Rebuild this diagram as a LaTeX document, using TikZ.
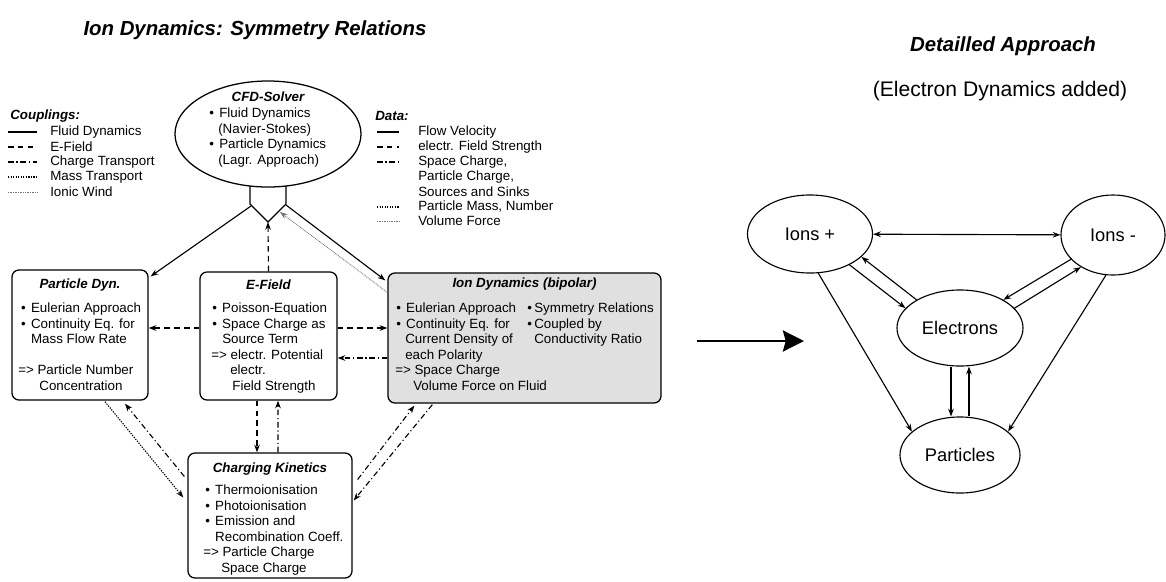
\documentclass[tikz,border=0pt]{standalone}
\usepackage{fontspec}
\setmainfont{Liberation Sans}
\usetikzlibrary{arrows.meta,shapes.geometric}

\newcommand{\bul}{\makebox[7.1pt][l]{\textbullet}}
\newcommand{\bulr}{\makebox[5pt][l]{\textbullet}}

\begin{document}
\begin{tikzpicture}[x=0.025cm,y=-0.025cm,>={Stealth[length=5.5pt,width=4pt]},
    txt/.style={font=\fontsize{9.5}{11}\selectfont,align=left,anchor=north west,inner sep=0pt},
    lg/.style={font=\fontsize{9.5}{11}\selectfont,anchor=west,inner sep=0pt},
    hd/.style={font=\fontsize{9.5}{11}\selectfont\bfseries\itshape,inner sep=0pt},
    box/.style={draw,line width=0.9pt,rounded corners=5pt,inner sep=0pt},
    fluid/.style={line width=0.8pt},
    efl/.style={line width=0.8pt,dash pattern=on 4pt off 3pt},
    chg/.style={line width=0.8pt,dash pattern=on 4pt off 2pt on 0.8pt off 2pt},
    mass/.style={line width=0.8pt,dash pattern=on 0.9pt off 0.9pt},
    wind/.style={line width=0.6pt,black!55,dash pattern=on 0.6pt off 0.6pt},
    spc/.style={draw,ellipse,line width=0.8pt,font=\fontsize{13}{15}\selectfont,inner sep=0pt}]
\useasboundingbox (0,0) rectangle (1166,581);

% titles
\node[font=\fontsize{14.5}{17}\selectfont\bfseries\itshape] (title) at (255,30) {Ion Dynamics: Symmetry Relations};
\node[font=\fontsize{14.5}{17}\selectfont\bfseries\itshape] (title2) at (1003,46) {Detailled Approach};
\node[font=\fontsize{15}{18}\selectfont] (sub) at (1000,91) {(Electron Dynamics added)};

% legend couplings
\node[hd,anchor=west] (cpl) at (10,116) {Couplings:};
\draw[line width=1.1pt] (8,132) -- (37,132);
\node[lg] (cpl-1) at (50,132) {Fluid Dynamics};
\draw[efl] (8,147) -- (37,147);
\node[lg] (cpl-2) at (50,147) {E-Field};
\draw[chg] (8,162) -- (37,162);
\node[lg] (cpl-3) at (50,162) {Charge Transport};
\draw[mass] (8,177) -- (37,177);
\node[lg] (cpl-4) at (50,177) {Mass Transport};
\draw[wind] (8,192) -- (37,192);
\node[lg] (cpl-5) at (50,192) {Ionic Wind};

% legend data
\node[hd,anchor=west] (dat) at (375,116) {Data:};
\draw[line width=1.1pt] (377,132) -- (399,132);
\node[lg] (dat-1) at (418,132) {Flow Velocity};
\draw[efl] (377,147) -- (399,147);
\node[lg] (dat-2) at (418,147) {electr. Field Strength};
\draw[chg] (377,162) -- (399,162);
\node[lg] (dat-3) at (418,162) {Space Charge,};
\node[lg] (dat-4) at (418,177) {Particle Charge,};
\node[lg] (dat-5) at (418,192) {Sources and Sinks};
\draw[mass] (377,207) -- (399,207);
\node[lg] (dat-6) at (418,207) {Particle Mass, Number};
\draw[wind] (377,221) -- (399,221);
\node[lg] (dat-7) at (418,221) {Volume Force};

% cfd solver
\draw[fluid] (250,180) -- (250,204) -- (268,222) -- (286,204) -- (286,180);
\coordinate (hubL) at (251,206);
\coordinate (hubR) at (286,205);
\coordinate (hubB) at (268,222);
\coordinate (hubW) at (280,212);
\node[draw,ellipse,fill=white,line width=0.9pt,minimum width=4.65cm,minimum height=2.65cm] (cfd) at (268,134) {};
\node[hd] (cfd-t) at (268,97) {CFD-Solver};
\node[txt] (cfd-x) at (209,108) {\bul Fluid Dynamics\\
    \hspace*{6.4pt}(Navier-Stokes)\\
    \bul Particle Dynamics\\
    \hspace*{6.4pt}(Lagr. Approach)};

% particle dyn.
\node[box,minimum width=3.4cm,minimum height=3.25cm] (pdyn) at (80,335) {};
\node[hd] (pdyn-t) at (80,285) {Particle Dyn.};
\node[txt] (pdyn-x) at (18,303) {\hspace*{2pt}\bul Eulerian Approach\\
    \hspace*{2pt}\bul Continuity Eq. for\\
    \hspace*{9.1pt}Mass Flow Rate\\
    \mbox{}\\
    => Particle Number\\
    \hspace*{15pt}Concentration};

% e-field
\node[box,minimum width=3.425cm,minimum height=3.2cm] (efield) at (268.5,336) {};
\node[hd] (efield-t) at (268.5,285) {E-Field};
\node[txt] (efield-x) at (211,303) {\hspace*{0.7pt}\bul Poisson-Equation\\
    \hspace*{0.7pt}\bul Space Charge as\\
    \hspace*{7.8pt}Source Term\\
    => electr. Potential\\
    \hspace*{13.5pt}electr.\\
    \hspace*{15pt}Field Strength};

% ion dynamics
\node[box,fill=black!12,minimum width=6.825cm,minimum height=3.25cm] (iondyn) at (524.5,338) {};
\node[hd] (iondyn-t) at (524.5,284) {Ion Dynamics (bipolar)};
\node[txt] (iondyn-x) at (395,303) {\hspace*{0.7pt}\bul Eulerian Approach\\
    \hspace*{0.7pt}\bul Continuity Eq. for\\
    \hspace*{7.1pt}Current Density of\\
    \hspace*{7.1pt}each Polarity\\
    => Space Charge\\
    \hspace*{12.8pt}Volume Force on Fluid};
\node[txt] (iondyn-y) at (527,303) {\bulr Symmetry Relations\\
    \bulr Coupled by\\
    \hspace*{5pt}Conductivity Ratio};

% charging kinetics
\node[box,minimum width=4.1cm,minimum height=3.125cm] (charge) at (270,515.5) {};
\node[hd] (charge-t) at (270,469) {Charging Kinetics};
\node[txt] (charge-x) at (203,485) {\hspace*{1.4pt}\bul Thermoionisation\\
    \hspace*{1.4pt}\bul Photoionisation\\
    \hspace*{1.4pt}\bul Emission and\\
    \hspace*{8.5pt}Recombination Coeff.\\
    => Particle Charge\\
    \hspace*{12.8pt}Space Charge};

% couplings
\draw[fluid,->] (hubL) -- ([shift={(2,7)}]pdyn.north east);
\draw[fluid,->] (hubR) -- ([shift={(-2,8)}]iondyn.north west);
\draw[wind,->] ([shift={(0,20)}]iondyn.north west) -- (hubW);
\draw[efl,->] (efield.north) -- (hubB);
\draw[efl,->] ([shift={(0,-8)}]efield.west) -- ([shift={(0,-7)}]pdyn.east);
\draw[efl,->] ([shift={(0,-8)}]efield.east) -- ([shift={(0,-10)}]iondyn.west);
\draw[chg,->] ([shift={(0,20)}]iondyn.west) -- ([shift={(0,22)}]efield.east);
\draw[efl,->] ([shift={(-11.5,0)}]efield.south) -- ([shift={(-13,0)}]charge.north);
\draw[chg,->] ([shift={(8,0)}]charge.north) -- ([shift={(9.5,0)}]efield.south);
\draw[mass,->] ([shift={(25,1)}]pdyn.south) -- ([shift={(-4,-18)}]charge.west);
\draw[chg,->] ([shift={(-3,-39)}]charge.west) -- ([shift={(45,3)}]pdyn.south);
\draw[chg,->] ([shift={(5,-36)}]charge.east) -- ([shift={(27,2)}]iondyn.south west);
\draw[chg,->] ([shift={(45,1)}]iondyn.south west) -- ([shift={(1,-15)}]charge.east);

% big arrow
\coordinate (arrS) at (697,341);
\coordinate (arrE) at (804,341);
\draw[line width=1.9pt,-{Stealth[length=15pt,width=15pt,inset=2pt]}] (arrS) -- (arrE);

% detailled approach
\node[spc,minimum width=3.125cm,minimum height=1.95cm] (ionp) at (810,234) {Ions +};
\node[spc,minimum width=2.6cm,minimum height=2cm] (ionm) at (1113,235) {Ions -};
\node[spc,minimum width=3.15cm,minimum height=1.9cm] (elec) at (960,328) {Electrons};
\node[spc,minimum width=3cm,minimum height=1.9cm] (part) at (960,455) {Particles};
\draw[fluid,<->] (ionp) -- (ionm);
\draw[fluid,->] (elec.147) -- (ionp.-24);
\draw[fluid,->] (ionp.-38) -- (elec.160);
\draw[fluid,->] (ionm.-150) -- (elec.33);
\draw[fluid,->] (elec.20) -- (ionm.-135);
\draw[fluid,->] ([shift={(-9,0)}]elec.south) -- ([shift={(-9,0)}]part.north);
\draw[fluid,->] ([shift={(9,0)}]part.north) -- ([shift={(9,0)}]elec.south);
\draw[fluid,->] (ionp.-78) -- (part.154);
\draw[fluid,->] (ionm.-100) -- (part.26);
\end{tikzpicture}
\end{document}
